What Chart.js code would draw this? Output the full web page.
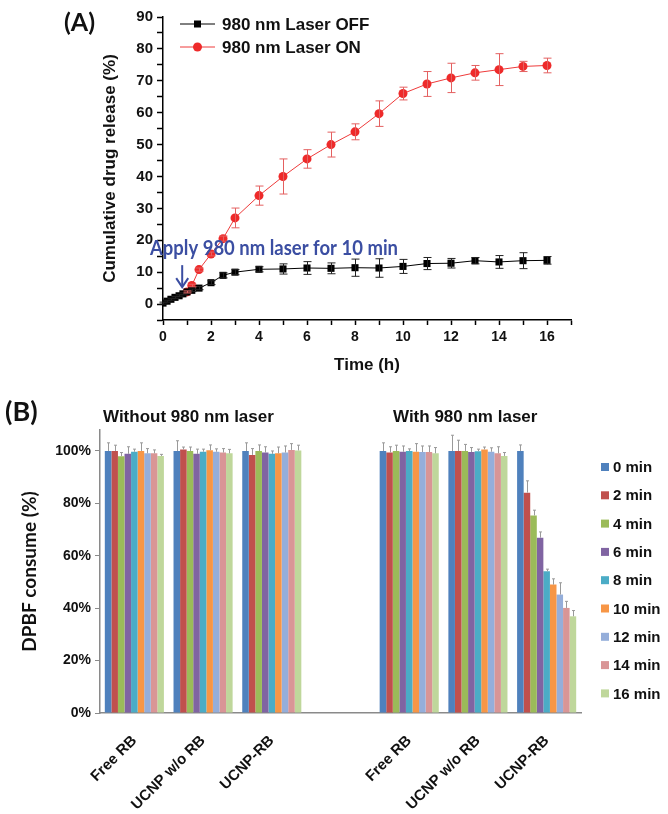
<!DOCTYPE html>
<html>
<head>
<meta charset="utf-8">
<script src="https://cdn.jsdelivr.net/npm/chart.js@4.4.1/dist/chart.umd.min.js"></script>
<style>
  html, body { margin: 0; padding: 0; background: #fff; }
  #wrap { position: relative; width: 668px; height: 814px; overflow: hidden; }
  canvas { position: absolute; left: 0; }
  .lbl { position: absolute; font-weight: bold; color: #111; white-space: nowrap; }
</style>
</head>
<body>
<div id="wrap">
  <canvas id="chartA" width="668" height="380" style="top:0"></canvas>
  <canvas id="chartB" width="668" height="434" style="top:380px"></canvas>
  <div class="lbl" style="left:64px;top:6px;font:bold 25px Lato, sans-serif;">(A)</div>
  <div class="lbl" style="left:5px;top:394px;font:bold 27px Lato, sans-serif;">(B)</div>
  <div class="lbl" style="left:103px;top:407px;font:bold 17px 'Liberation Sans', Arial, sans-serif;">Without 980 nm laser</div>
  <div class="lbl" style="left:393px;top:407px;font:bold 17px 'Liberation Sans', Arial, sans-serif;">With 980 nm laser</div>
</div>
<script>
// ---- Panel A : cumulative drug release ----
const timeOff = [0, 0.17, 0.33, 0.5, 0.67, 0.83, 1, 1.2, 1.5, 2, 2.5, 3, 4, 5, 6, 7, 8, 9, 10, 11, 12, 13, 14, 15, 16];
const releaseOff = [0.3, 0.9, 1.5, 2.1, 2.6, 3.2, 3.8, 4.3, 5.0, 6.7, 9.0, 10.0, 10.9, 11.0, 11.3, 11.2, 11.4, 11.3, 11.8, 12.7, 12.8, 13.6, 13.2, 13.6, 13.7];
const errOff = [0.3, 0.3, 0.3, 0.3, 0.3, 0.3, 0.4, 0.4, 0.5, 0.6, 0.8, 0.8, 0.8, 1.6, 2.0, 1.7, 2.7, 2.9, 2.2, 1.9, 1.5, 1.0, 2.0, 2.5, 1.2];

const timeOn = [1, 1.2, 1.5, 2, 2.5, 3, 4, 5, 6, 7, 8, 9, 10, 11, 12, 13, 14, 15, 16];
const releaseOn = [3.8, 5.8, 10.8, 15.7, 20.5, 27.0, 34.0, 40.0, 45.5, 50.0, 54.0, 59.7, 66.0, 69.0, 70.9, 72.5, 73.5, 74.5, 74.8];
const errOn = [0.3, 0.4, 0.5, 0.6, 0.8, 3.1, 3.0, 5.5, 2.9, 3.9, 2.5, 4.0, 2.0, 3.9, 4.6, 2.3, 5.0, 1.6, 2.3];

// arrow: time (h) and from/to values (%)
const arrowTime = 0.8;
const arrowFrom = 12.2;
const arrowTo = 5.3;

// ---- Panel B : DPBF consumption ----
const groups = ['Free RB', 'UCNP w/o RB', 'UCNP-RB', '', 'Free RB', 'UCNP w/o RB', 'UCNP-RB'];
const timeLabels = ['0 min', '2 min', '4 min', '6 min', '8 min', '10 min', '12 min', '14 min', '16 min'];
const dpbf0  = [100, 100, 100, null, 100, 100, 100];
const dpbf2  = [100, 100.6, 98.5, null, 99.4, 100, 84.1];
const dpbf4  = [98.0, 100, 100, null, 100, 100, 75.4];
const dpbf6  = [98.9, 98.9, 99.4, null, 99.7, 99.6, 66.9];
const dpbf8  = [99.7, 99.7, 98.9, null, 100, 99.9, 54.1];
const dpbf10 = [100, 100.3, 99.1, null, 99.7, 100.6, 49.0];
const dpbf12 = [99.1, 99.7, 99.4, null, 99.6, 99.7, 45.2];
const dpbf14 = [99.1, 99.4, 100.4, null, 99.6, 99.1, 40.1];
const dpbf16 = [98.1, 99.1, 100.2, null, 99.1, 98.1, 36.9];
const err0  = [3.1, 3.9, 3.1, null, 3.1, 6.0, 2.3];
const err2  = [2.2, 0.9, 2.4, null, 2.2, 4.1, 4.5];
const err4  = [1.4, 1.5, 2.3, null, 2.2, 2.5, 2.0];
const err6  = [2.7, 1.8, 2.2, null, 2.2, 1.7, 2.2];
const err8  = [1.0, 1.0, 1.1, null, 0.8, 0.8, 0.8];
const err10 = [3.1, 2.0, 2.4, null, 3.1, 0.9, 2.2];
const err12 = [1.8, 1.1, 2.5, null, 2.3, 1.5, 4.5];
const err14 = [1.3, 1.5, 2.4, null, 2.3, 2.5, 2.5];
const err16 = [0.6, 1.5, 2.0, null, 2.2, 1.3, 2.2];

const barColors = ['#4F81BD', '#C0504D', '#9BBB59', '#8064A2', '#4BACC6', '#F79646', '#95AEDA', '#D99596', '#BFD79B'];

const ARIAL = "'Liberation Sans', Arial, sans-serif";

// error bars drawn from each dataset's "errors" array, using the chart's own scales
const errorBars = {
  id: 'errorBars',
  afterDatasetsDraw(chart, args, opts) {
    const ctx = chart.ctx;
    const yScale = chart.scales.y;
    chart.data.datasets.forEach((ds, di) => {
      if (!ds.errors) return;
      const meta = chart.getDatasetMeta(di);
      ctx.save();
      ctx.strokeStyle = ds.errorColor || ds.borderColor;
      ctx.lineWidth = 1;
      meta.data.forEach((el, i) => {
        const e = ds.errors[i];
        const raw = ds.data[i];
        const v = (raw !== null && typeof raw === 'object') ? raw.y : raw;
        if (e == null || v == null) return;
        const x = Math.round(el.x) + 0.5;
        const yTop = yScale.getPixelForValue(v + e);
        const yBot = opts.plusOnly ? el.y : yScale.getPixelForValue(v - e);
        const cap = opts.cap;
        ctx.beginPath();
        ctx.moveTo(x, yTop); ctx.lineTo(x, yBot);
        ctx.moveTo(x - cap, yTop); ctx.lineTo(x + cap, yTop);
        if (!opts.plusOnly) { ctx.moveTo(x - cap, yBot); ctx.lineTo(x + cap, yBot); }
        ctx.stroke();
      });
      ctx.restore();
    });
  }
};

// legend and annotation for panel A
const panelADecor = {
  id: 'panelADecor',
  afterDraw(chart) {
    const ctx = chart.ctx;
    const xs = chart.scales.x, ys = chart.scales.y;
    ctx.save();
    // legend
    const rows = [24, 47];
    chart.data.datasets.forEach((ds, i) => {
      const y = rows[i];
      ctx.strokeStyle = ds.borderColor; ctx.lineWidth = 1;
      ctx.beginPath(); ctx.moveTo(180, y); ctx.lineTo(215, y); ctx.stroke();
      ctx.fillStyle = ds.pointBackgroundColor;
      if (ds.pointStyle === 'rect') ctx.fillRect(194, y - 3.5, 7, 7);
      else { ctx.beginPath(); ctx.arc(197.5, y, 4.5, 0, Math.PI * 2); ctx.fill(); }
      ctx.fillStyle = '#111';
      ctx.font = 'bold 17px ' + ARIAL;
      ctx.textBaseline = 'middle';
      ctx.fillText(ds.label, 222, y + 1);
    });
    // annotation arrow and text
    const blue = '#3B4EA2';
    const ax = xs.getPixelForValue(arrowTime);
    const yA = ys.getPixelForValue(arrowFrom), yB = ys.getPixelForValue(arrowTo);
    ctx.strokeStyle = blue; ctx.fillStyle = blue; ctx.lineWidth = 2;
    ctx.beginPath(); ctx.moveTo(ax, yA); ctx.lineTo(ax, yB - 1); ctx.stroke();
    ctx.beginPath(); ctx.moveTo(ax - 6, yB - 9); ctx.lineTo(ax, yB); ctx.lineTo(ax + 6, yB - 9);
    ctx.stroke();
    const txt = 'Apply 980 nm laser for 10 min';
    ctx.font = 'bold 21px Lato, sans-serif';
    const w = ctx.measureText(txt).width;
    ctx.save();
    ctx.translate(150, 248);
    ctx.scale(248 / w, 1);
    ctx.textBaseline = 'middle';
    ctx.fillText(txt, 0, 0);
    ctx.restore();
    ctx.restore();
  }
};

// legend for panel B
const panelBLegend = {
  id: 'panelBLegend',
  afterDraw(chart) {
    const ctx = chart.ctx;
    ctx.save();
    ctx.font = 'bold 15px ' + ARIAL;
    ctx.textBaseline = 'middle';
    chart.data.datasets.forEach((ds, i) => {
      const y = 87 + i * 28.3;
      ctx.fillStyle = ds.backgroundColor;
      ctx.fillRect(601, y - 4, 8, 8);
      ctx.fillStyle = '#111';
      ctx.fillText(ds.label, 613, y + 1);
    });
    ctx.restore();
  }
};

const tickFont = { family: ARIAL, size: 14, weight: 'bold' };

new Chart(document.getElementById('chartA'), {
  type: 'line',
  data: {
    datasets: [
      {
        label: '980 nm Laser OFF',
        data: timeOff.map((t, i) => ({ x: t, y: releaseOff[i] })),
        errors: errOff,
        borderColor: '#000', borderWidth: 1,
        pointStyle: 'rect', pointRadius: 5, pointBackgroundColor: '#000', pointBorderWidth: 0,
        errorColor: '#222'
      },
      {
        label: '980 nm Laser ON',
        data: timeOn.map((t, i) => ({ x: t, y: releaseOn[i] })),
        errors: errOn,
        borderColor: '#EE3A3A', borderWidth: 1,
        pointStyle: 'circle', pointRadius: 4.5, pointBackgroundColor: '#EE2A2A', pointBorderWidth: 0,
        errorColor: '#E46060'
      }
    ]
  },
  options: {
    responsive: false, animation: false,
    layout: { padding: { left: 96, right: 97, top: 17, bottom: 0 } },
    plugins: { legend: { display: false }, tooltip: { enabled: false }, errorBars: { cap: 4, plusOnly: false } },
    scales: {
      x: {
        type: 'linear', min: 0, max: 17,
        afterFit: s => { s.height = 60; },
        ticks: { stepSize: 1, autoSkip: false, maxRotation: 0, padding: 4, color: '#111', font: tickFont,
                 callback: v => (v % 2 === 0 && v <= 16) ? v : '' },
        grid: { drawOnChartArea: false, tickLength: 5, tickColor: '#000', tickWidth: 1.5 },
        border: { color: '#000', width: 1.5 },
        title: { display: true, text: 'Time (h)', color: '#111', font: { family: ARIAL, size: 17, weight: 'bold' }, padding: { top: 4, bottom: 4 } }
      },
      y: {
        min: -5, max: 90,
        afterFit: s => { s.width = 67; },
        ticks: { stepSize: 5, autoSkip: false, padding: 4, color: '#111', font: { family: ARIAL, size: 15, weight: 'bold' },
                 callback: v => v % 10 === 0 ? v : '' },
        grid: { drawOnChartArea: false, tickLength: 6, tickColor: '#000', tickWidth: 1.5 },
        border: { color: '#000', width: 1.5 },
        title: { display: true, text: 'Cumulative drug release (%)', color: '#111', font: { family: ARIAL, size: 17, weight: 'bold' }, padding: { top: 4, bottom: 4 } }
      }
    }
  },
  plugins: [errorBars, panelADecor]
});

const dpbfSeries = [dpbf0, dpbf2, dpbf4, dpbf6, dpbf8, dpbf10, dpbf12, dpbf14, dpbf16];
const errSeries = [err0, err2, err4, err6, err8, err10, err12, err14, err16];

new Chart(document.getElementById('chartB'), {
  type: 'bar',
  data: {
    labels: groups,
    datasets: timeLabels.map((lab, i) => ({
      label: lab,
      data: dpbfSeries[i],
      errors: errSeries[i],
      backgroundColor: barColors[i],
      borderWidth: 0,
      errorColor: '#9a9a9a',
      categoryPercentage: 0.86,
      barPercentage: 1.0
    }))
  },
  options: {
    responsive: false, animation: false,
    layout: { padding: { left: 14, right: 87, top: 50, bottom: 0 } },
    plugins: { legend: { display: false }, tooltip: { enabled: false }, errorBars: { cap: 1.5, plusOnly: true } },
    scales: {
      x: {
        afterFit: s => { s.height = 101; },
        ticks: { autoSkip: false, minRotation: 45, maxRotation: 45, padding: 19, color: '#111', font: { family: ARIAL, size: 15, weight: 'bold' } },
        grid: { display: false, drawTicks: false },
        border: { color: '#8a8a8a', width: 1.5 }
      },
      y: {
        min: 0, max: 108,
        afterFit: s => { s.width = 86; },
        afterBuildTicks: s => { s.ticks = s.ticks.filter(t => t.value <= 100); },
        ticks: { stepSize: 20, padding: 4, color: '#111', font: tickFont, callback: v => v + '%' },
        grid: { drawOnChartArea: false, tickLength: 5, tickColor: '#8a8a8a' },
        border: { color: '#8a8a8a', width: 1.5 },
        title: { display: true, text: 'DPBF consume (%)', color: '#111', font: { family: 'Lato, sans-serif', size: 19, weight: 'bold' }, padding: { top: 4, bottom: 4 } }
      }
    }
  },
  plugins: [errorBars, panelBLegend]
});
</script>
</body>
</html>
